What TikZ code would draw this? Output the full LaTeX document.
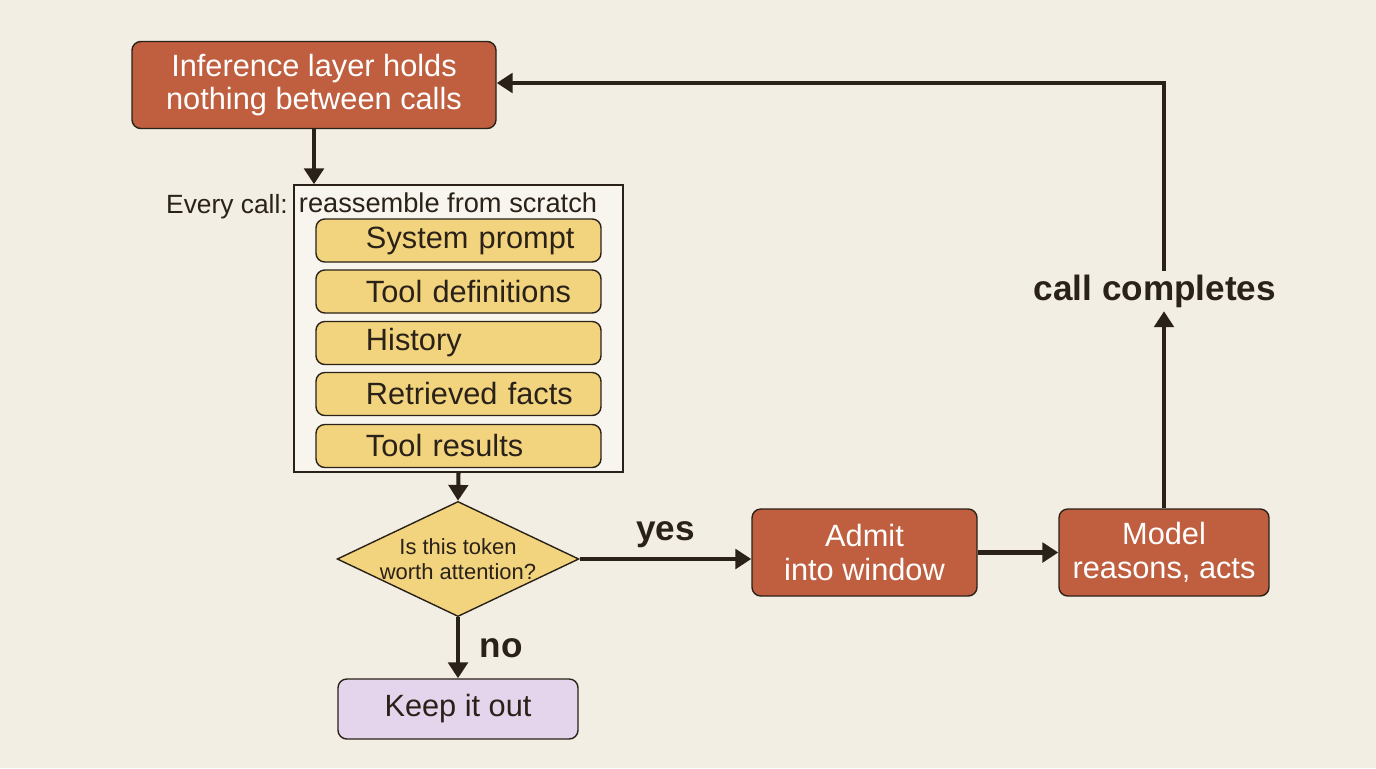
\documentclass[tikz,border=0pt]{standalone}
\usepackage{fontspec}
\setmainfont{Liberation Sans}
\usetikzlibrary{shapes.geometric,arrows.meta}
\definecolor{bg}{HTML}{F3EEE3}
\definecolor{rust}{HTML}{BF5F3F}
\definecolor{yel}{HTML}{F2D47F}
\definecolor{purp}{HTML}{E4D4EC}
\definecolor{ink}{HTML}{2A2118}
\begin{document}
\begin{tikzpicture}[x=0.02cm,y=-0.02cm,
  box/.style={draw=ink,line width=0.8pt,rounded corners=5pt,inner sep=0pt,font=\fontsize{17.5}{19}\selectfont,align=center},
  rb/.style={box,fill=rust,text=white},
  yb/.style={box,fill=yel,minimum width=285*0.02cm,minimum height=43*0.02cm,text width=235*0.02cm,align=left,text=ink},
  arr/.style={draw=ink,line width=2.3pt,-{Triangle[length=9pt,width=11pt]}},
  lab/.style={font=\bfseries\fontsize{20}{23}\selectfont,text=ink}]
\fill[bg] (0,0) rectangle (1376,768);
\useasboundingbox (0,0) rectangle (1376,768);
\node[rb,minimum width=364*0.02cm,minimum height=87*0.02cm] (inf) at (314,85) {Inference layer holds\\nothing between calls};
\node[draw=ink,line width=0.8pt,fill=bg!60!white,minimum width=329*0.02cm,minimum height=287*0.02cm,inner sep=0pt] (cont) at (458.5,328.5) {};
\node[font=\fontsize{15.5}{17}\selectfont,text=ink] (re) at (448,203) {reassemble from scratch};
\node[font=\fontsize{15}{17}\selectfont,text=ink] (ev) at (227,207) {Every call:};
\node[yb] (s1) at (458.5,240.5) {\hspace*{0.5cm}System prompt};
\node[yb] (s2) at (458.5,291.5) {\hspace*{0.5cm}Tool definitions};
\node[yb] (s3) at (458.5,343) {\hspace*{0.5cm}History};
\node[yb] (s4) at (458.5,394) {\hspace*{0.5cm}Retrieved facts};
\node[yb] (s5) at (458.5,446) {\hspace*{0.5cm}Tool results};
\node[diamond,draw=ink,line width=0.8pt,fill=yel,minimum width=240*0.02cm,minimum height=114*0.02cm,inner sep=0pt,aspect=2.1,align=center,font=\fontsize{12.5}{14}\selectfont,text=ink] (dec) at (458,559) {Is this token\\worth attention?};
\node[rb,minimum width=225*0.02cm,minimum height=87*0.02cm] (adm) at (864.5,552.5) {Admit\\into window};
\node[rb,minimum width=210*0.02cm,minimum height=87*0.02cm] (mod) at (1164,552.5) {Model\\reasons, acts};
\node[box,fill=purp,text=ink,minimum width=240*0.02cm,minimum height=60*0.02cm] (keep) at (458,709) {Keep it out};
\node[lab,inner sep=2pt] (cc) at (1155,291) {call completes};
\coordinate (tr) at (1164,83);
\draw[arr] (inf.south) -- (inf.south |- cont.north);
\draw[arr] (cont.south) -- (dec.north);
\draw[arr] (dec.east) -- node[lab,above=2pt] {yes} (adm.west |- dec.east);
\draw[arr] (adm.east) -- (mod.west);
\draw[arr] (mod.north) -- (mod.north |- cc.south);
\draw[arr] (mod.north |- cc.north) -- (tr) -- (inf.east |- tr);
\draw[arr] (dec.south) -- node[lab,right=8pt] {no} (keep.north);
\end{tikzpicture}
\end{document}
